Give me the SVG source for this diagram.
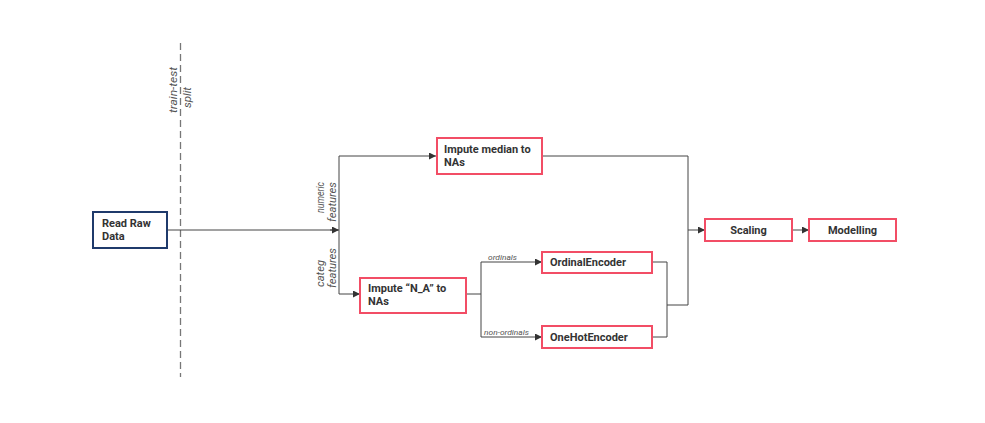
<svg xmlns="http://www.w3.org/2000/svg" width="985" height="423" viewBox="0 0 985 423">
<style>
.box{fill:#fff;stroke:#f24d65;stroke-width:2}
.blue{fill:#fff;stroke:#1f3a6b;stroke-width:2}
.t{font-family:Roboto,"Liberation Sans",sans-serif;font-weight:bold;font-size:11px;fill:#333}
.lbl{font-family:Roboto,"Liberation Sans",sans-serif;font-style:italic;font-size:10.5px;fill:#555}
.sm{font-family:Roboto,"Liberation Sans",sans-serif;font-style:italic;font-size:8px;fill:#555}
.ln{fill:none;stroke:#444;stroke-width:1}
.arr{fill:none;stroke:#444;stroke-width:1;marker-end:url(#ah)}
</style>
<defs>
<marker id="ah" viewBox="0 0 10 10" refX="10" refY="5" markerWidth="9" markerHeight="7" markerUnits="userSpaceOnUse" orient="auto">
<path d="M0,0 L10,5 L0,10 z" fill="#333"/>
</marker>
</defs>
<rect width="985" height="423" fill="#fff"/>
<g id="split">
<line x1="180.5" y1="43" x2="180.5" y2="377" stroke="#777" stroke-width="1.3" stroke-dasharray="7,4"/>
<text class="lbl" transform="translate(177,113) rotate(-90)" textLength="46" lengthAdjust="spacingAndGlyphs">train-test</text>
<text class="lbl" transform="translate(191,108) rotate(-90)" textLength="21" lengthAdjust="spacingAndGlyphs">split</text>
</g>
<g id="connectors">
<polyline class="ln" points="167,230 338,230"/>
<path class="arr" d="M330,230 L339,230"/>
<polyline class="ln" points="339,156 339,294"/>
<polyline class="arr" points="339,156 436,156"/>
<polyline class="arr" points="339,294 360,294"/>
<polyline class="ln" points="542,156 688,156 688,305"/>
<polyline class="arr" points="688,230 705,230"/>
<polyline class="arr" points="792,230 809,230"/>
<polyline class="ln" points="466,294 481,294"/>
<polyline class="ln" points="481,262 481,337"/>
<polyline class="arr" points="481,262 542,262"/>
<polyline class="arr" points="481,337 542,337"/>
<polyline class="ln" points="652,262 667,262 667,337 652,337"/>
<polyline class="ln" points="667,305 688,305"/>
<text class="lbl" transform="translate(323.5,213) rotate(-90)" textLength="31" lengthAdjust="spacingAndGlyphs">numeric</text>
<text class="lbl" transform="translate(335.5,222) rotate(-90)" textLength="40" lengthAdjust="spacingAndGlyphs">features</text>
<text class="lbl" transform="translate(323.5,287) rotate(-90)" textLength="27" lengthAdjust="spacingAndGlyphs">categ</text>
<text class="lbl" transform="translate(335.5,288) rotate(-90)" textLength="40" lengthAdjust="spacingAndGlyphs">features</text>
<text class="sm" x="488" y="260" textLength="29" lengthAdjust="spacingAndGlyphs">ordinals</text>
<text class="sm" x="484" y="335" textLength="45" lengthAdjust="spacingAndGlyphs">non-ordinals</text>
</g>
<g id="read">
<rect class="blue" x="93" y="212" width="74" height="36"/>
<text class="t" x="102" y="227">Read Raw</text>
<text class="t" x="102" y="240">Data</text>
</g>
<g id="median">
<rect class="box" x="437" y="138" width="105" height="36"/>
<text class="t" x="444" y="153">Impute median to</text>
<text class="t" x="444" y="166">NAs</text>
</g>
<g id="impute_na">
<rect class="box" x="360" y="278" width="106" height="35"/>
<text class="t" x="368" y="292">Impute “N_A” to</text>
<text class="t" x="368" y="305">NAs</text>
</g>
<g id="ordinal">
<rect class="box" x="542" y="252" width="110" height="21"/>
<text class="t" x="550" y="266">OrdinalEncoder</text>
</g>
<g id="onehot">
<rect class="box" x="542" y="326" width="110" height="22"/>
<text class="t" x="550" y="341">OneHotEncoder</text>
</g>
<g id="scaling">
<rect class="box" x="705" y="219" width="87" height="22"/>
<text class="t" x="748.5" y="234" text-anchor="middle">Scaling</text>
</g>
<g id="modelling">
<rect class="box" x="809" y="219" width="87" height="22"/>
<text class="t" x="852.5" y="234" text-anchor="middle">Modelling</text>
</g>
</svg>
